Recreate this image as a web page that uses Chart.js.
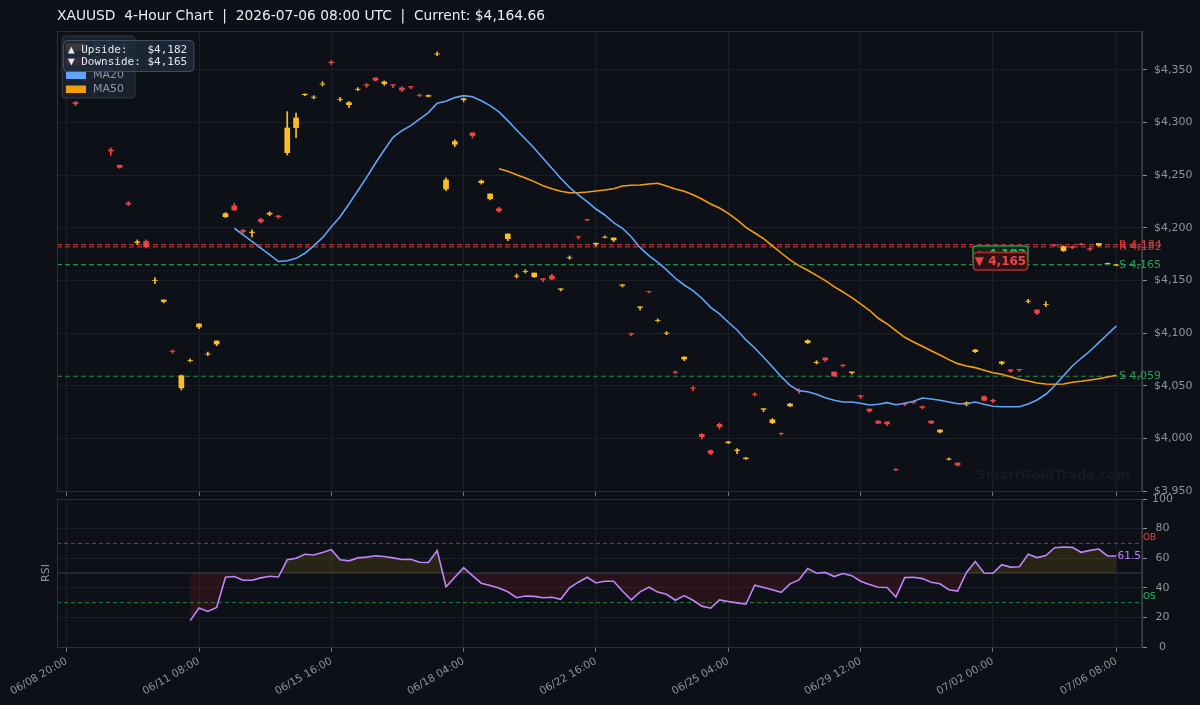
<!DOCTYPE html>
<html><head><meta charset="utf-8">
<script src="https://cdn.jsdelivr.net/npm/chart.js@4.4.1/dist/chart.umd.min.js"></script>
<style>
html,body{margin:0;padding:0;background:#0d1117;}
#wrap{position:relative;width:1200px;height:705px;overflow:hidden;background:#0d1117;}
#c1{position:absolute;left:0;top:0;}
#c2{position:absolute;left:0;top:480px;}
</style></head><body>
<div id="wrap"><canvas id="c1" width="1200" height="497"></canvas><canvas id="c2" width="1200" height="225"></canvas></div>
<script>
// ---------------- DATA ----------------
const tickIdx = [0,15,30,45,60,75,90,105,119];
const tickLabels = ['06/08 20:00','06/11 08:00','06/15 16:00','06/18 04:00','06/22 16:00','06/25 04:00','06/29 12:00','07/02 00:00','07/06 08:00'];

const opens = [4330,4319,4341,4329,4345,4274,4259.5,4223.5,4186,4187,
4150,4130,4083,4048,4074,4105.8,4080,4089.7,4210.6,4220.8,
4197.5,4195.5,4208,4213,4211.3,4271.4,4295.2,4326.5,4324,4336.5,
4357.5,4322,4317,4331.5,4336,4342.4,4337,4336,4332.9,4334.2,
4326,4325,4365,4236.9,4279.4,4321.8,4290.3,4242.9,4227.7,4218.2,
4189.7,4154,4158.5,4153.6,4151.7,4154.3,4141.6,4171.5,4191.5,4207.8,
4184.8,4191,4188.5,4145.4,4099.5,4124.4,4139.5,4112,4099.8,4063,
4075.4,4048,4003.9,3988.3,4013.4,3996,3988.4,3980.8,4042,4027.6,
4014.9,4004.8,4030.8,4045.5,4090.9,4072,4076.4,4063.1,4069.7,4062.5,
4040.6,4027.9,4016.5,4015.6,3970.6,4033,4034.8,4030.2,4016.5,4006.1,
3980.2,3976.6,4032.5,4082.4,4039.6,4036.2,4071.3,4065,4065.6,4130.2,
4122,4127,4183.5,4178.3,4182,4184.5,4180.3,4183.4,4166,4164.4];
const highs = [4331,4320,4342.5,4330.5,4346.5,4276,4259.5,4225,4188.5,4188.5,
4152.7,4131.5,4084,4060.2,4075.4,4108.7,4082,4092.5,4214.5,4223.3,
4198.6,4198,4209.1,4215.3,4212,4310.4,4309.1,4327.2,4325.6,4338.9,
4359,4324,4320,4333.2,4337.1,4342.4,4339.6,4336.1,4334,4334.3,
4327.2,4326.3,4367.1,4247.4,4283.5,4323.3,4290.3,4245.5,4232.2,4219.5,
4194.2,4156.2,4160.3,4157.1,4151.7,4155.9,4142.2,4173.3,4192.3,4208.4,
4185.6,4192.3,4190.4,4146,4100,4125,4140,4113.4,4101.4,4064,
4077.3,4049.1,4004.4,3989,4014.6,3997.2,3990.4,3981.8,4043.4,4028.2,
4018.7,4005.4,4033.3,4047.2,4093.6,4073.8,4076.4,4063.1,4069.8,4063.1,
4040.6,4027.9,4016.6,4015.6,3971.2,4033.9,4034.8,4030.8,4016.5,4008,
3981.4,3976.6,4034.6,4084.6,4040.3,4037.4,4073.2,4065.6,4065.7,4132.1,
4122,4129.6,4184.2,4183,4182.8,4185.2,4181.2,4185.3,4166.6,4165.5];
const lows = [4327.5,4316,4337.5,4326,4341.5,4269,4256.5,4221,4184,4181,
4147,4128.6,4081,4046,4072.6,4104.2,4078.6,4088,4209.6,4216.3,
4194.8,4191.4,4204.6,4211.4,4209,4269.2,4285.7,4325.5,4322.4,4334.8,
4355,4320.4,4314.2,4330.3,4333.4,4339.5,4335.3,4333.2,4329.4,4332.2,
4324.6,4324.3,4363.6,4235.3,4277.1,4319.7,4285.4,4241.6,4226.5,4214.8,
4187.8,4152.4,4157.1,4152.7,4148.9,4150.5,4140,4170.1,4189.4,4206.5,
4182.8,4190.4,4186.9,4143.8,4097.4,4122.1,4138.1,4110.6,4098.5,4061.4,
4073.8,4045,3999.4,3984.5,4008.9,3995,3985.4,3980,4040.3,4025.3,
4013.9,4003.2,4030.1,4042.8,4090,4070.7,4072.9,4059.3,4067.8,4061,
4037.7,4024.9,4014,4012.4,3969.3,4031,4033,4028,4013.7,4005.2,
3979.5,3973.7,4030.8,4081.5,4035.5,4033.9,4070,4062.8,4063.4,4128.6,
4117.5,4125.1,4182.8,4177.6,4180.2,4183.8,4178.3,4182.6,4166,4164];
const closes = [4328.5,4318,4339,4327,4343,4273,4257.5,4222.5,4186.8,4182,
4150.2,4131.5,4082.6,4059.5,4074.2,4108.7,4080.2,4092.5,4213.5,4217,
4196.5,4196,4206,4214,4210.6,4294.9,4304.4,4327,4324.2,4336.7,
4356.8,4322.2,4319,4331.7,4335.4,4340.2,4338.6,4335.5,4331,4333.8,
4325.8,4325.7,4365.2,4245.5,4281.9,4322.6,4287.6,4244.5,4232.2,4216,
4194.2,4154.2,4158.7,4157.1,4151,4151.4,4142.1,4171.7,4191.3,4207.5,
4185.4,4191.2,4190.4,4145.9,4098.9,4125,4139.3,4112.2,4100,4062.8,
4077.3,4047.6,4001.6,3985.8,4011.1,3996.6,3989,3981.4,4041.8,4028.2,
4017.7,4004.6,4032.7,4045.2,4092.8,4072.2,4074.5,4059.3,4069.2,4063.1,
4040,4026,4014.4,4013.7,3970.4,4032.4,4034.2,4029.5,4014.6,4008,
3980.4,3974.7,4033.8,4084,4036.2,4035.5,4072.6,4064,4065.2,4130.4,
4119.1,4127.2,4183.2,4182.1,4181.4,4184.2,4179.8,4185.3,4166.3,4164.66];

const ma20Start = 19;
const ma20 = [4199.6,4193.4,4187.2,4180.8,4174.5,4168,4168.8,4171,4175.8,4182.8,
4190.7,4201.1,4210.6,4222.7,4235.3,4248,4261.4,4274,4286,4292.3,
4297.1,4303.2,4309.5,4318.4,4320.3,4323.7,4325.6,4324.6,4320.8,4316.1,
4310.1,4301.8,4293,4284.4,4275.6,4266.1,4256.6,4247.1,4238.5,4231.2,
4224.9,4217.9,4212.2,4204.9,4199.6,4191.6,4181.2,4173.6,4167.3,4160,
4152.1,4145.7,4140.3,4133.1,4124.5,4118.2,4110.3,4103,4093.5,4085.9,
4077,4068.1,4058.6,4050.4,4045.3,4044.3,4041.9,4038.6,4036.2,4034.6,
4034.6,4033.3,4031.7,4032.4,4033.9,4032,4033.3,4035.2,4038.4,4037.4,
4036.2,4034.6,4032.9,4032.9,4034.6,4032.4,4030.5,4030.1,4030.1,4030.1,
4032.7,4036.5,4041.9,4050,4059.5,4068.8,4076.1,4083,4090.9,4098.9,
4106.8];

const ma50Start = 49;
const ma50 = [4256.2,4253.7,4250.5,4247.4,4243.9,4240.1,4237.2,4234.8,4233.4,4233.4,
4234.1,4235,4236,4237.2,4239.8,4240.5,4240.7,4241.7,4242.4,4239.8,
4236.9,4234.8,4231.5,4227.4,4222.7,4218.9,4213.8,4207.5,4200.5,4195.1,
4189.7,4182.8,4176.1,4169.5,4164.1,4159.7,4154.9,4149.8,4144.1,4139.1,
4133.7,4127.7,4121.7,4114.1,4108.7,4102.3,4096,4091.6,4087.5,4083.3,
4079.2,4074.8,4071,4068.8,4067.2,4064.7,4062.4,4060.9,4058.6,4056.1,
4054.5,4052.6,4051.7,4051.4,4051.7,4053.3,4054.2,4055.5,4056.7,4058.3,
4059.9];

const rsiStart = 14;
const rsi = [17.8,26.4,24,26.7,47.1,47.6,45.1,45.1,46.7,47.8,
47.3,58.9,60,62.7,62.2,63.8,65.8,58.9,58.2,60.2,
60.7,61.6,61.1,60.2,59.1,59.3,57.3,57.1,65.1,40.7,
47.1,53.6,48.2,43.1,41.6,39.8,37.3,33.3,34.4,34.2,
33.3,33.6,32.2,40,43.8,47.1,43.3,44.4,44.4,37.8,
31.8,37.3,40.4,37.1,35.6,31.6,34.7,31.6,27.6,26.2,
31.8,30.7,29.8,28.9,41.8,40.2,38.7,36.9,42.7,45.3,
53.1,49.8,50.4,47.6,49.6,48.2,44.4,42.2,40.4,40.2,
33.8,46.9,47.1,46.2,43.8,42.7,38.7,37.8,50.4,57.8,
50,49.8,55.6,54,54.2,62.7,60.4,61.8,67.1,67.6,
67.3,64,65.3,66.2,61.6,61.5];

const resistance = [4184, 4182];
const support = [4165, 4059];
const upside = 4182, downside = 4165, currentPrice = 4164.66;
const rsiOB = 70, rsiOS = 30, rsiMid = 50;
const titleText = 'XAUUSD  4-Hour Chart  |  2026-07-06 08:00 UTC  |  Current: $4,164.66';

// ---------------- STYLE ----------------
const FONT = '"DejaVu Sans", sans-serif';
const MONO = '"DejaVu Sans Mono", monospace';
const BULL = '#fbbf24', BEAR = '#ef4444';
const GRID = '#1a1f28', TXT = '#8b949e';
const X_MIN = -1.1, X_MAX = 121.9;
Chart.defaults.font.family = FONT;
Chart.defaults.color = TXT;

const fmt = v => Math.round(v).toString().replace(/\B(?=(\d{3})+(?!\d))/g, ',');
const idx = opens.map((_, i) => i);
const candleColors = idx.map(i => closes[i] >= opens[i] ? BULL : BEAR);

function xScale(showLabels, h) {
  return {
    type: 'linear', min: X_MIN, max: X_MAX, offset: false,
    afterBuildTicks: s => { s.ticks = tickIdx.map(v => ({ value: v })); },
    afterFit: s => { s.height = h; s.paddingLeft = 0; s.paddingRight = 0; },
    grid: { color: GRID, tickColor: '#6e7681', tickLength: 5, offset: false },
    border: { display: false },
    ticks: {
      display: showLabels, autoSkip: false, maxRotation: 30, minRotation: 30,
      color: TXT, font: { size: 10.5 }, padding: 3,
      callback: v => { const k = tickIdx.indexOf(v); return k >= 0 ? tickLabels[k] : ''; }
    }
  };
}
function yFit(s) { s.width = 58; s.paddingTop = 0; s.paddingBottom = 0; }

function rr(ctx, x, y, w, h, r) {
  ctx.beginPath();
  ctx.moveTo(x + r, y);
  ctx.arcTo(x + w, y, x + w, y + h, r);
  ctx.arcTo(x + w, y + h, x, y + h, r);
  ctx.arcTo(x, y + h, x, y, r);
  ctx.arcTo(x, y, x + w, y, r);
  ctx.closePath();
}

const mainDeco = {
  id: 'mainDeco',
  beforeDatasetsDraw(chart) {
    const { ctx, chartArea: a, scales: { y } } = chart;
    ctx.save();
    ctx.font = 'bold 13px ' + FONT;
    ctx.fillStyle = '#161c26';
    ctx.textAlign = 'right'; ctx.textBaseline = 'middle';
    ctx.fillText('SmartGoldTrade.com', a.right - 12, a.bottom - 15);
    ctx.lineWidth = 1.2; ctx.setLineDash([5, 3]);
    resistance.forEach(v => {
      const py = y.getPixelForValue(v);
      ctx.strokeStyle = 'rgba(220,50,50,0.85)';
      ctx.beginPath(); ctx.moveTo(a.left, py); ctx.lineTo(a.right, py); ctx.stroke();
    });
    support.forEach(v => {
      const py = y.getPixelForValue(v);
      ctx.strokeStyle = 'rgba(22,163,74,0.9)';
      ctx.beginPath(); ctx.moveTo(a.left, py); ctx.lineTo(a.right, py); ctx.stroke();
    });
    ctx.restore();
  },
  afterDraw(chart) {
    const { ctx, chartArea: a, scales: { y } } = chart;
    ctx.save();
    // border
    ctx.strokeStyle = '#2b3139'; ctx.lineWidth = 1;
    ctx.strokeRect(a.left + 0.5, a.top + 0.5, a.right - a.left - 1, a.bottom - a.top);
    // level labels
    ctx.font = '11px ' + FONT; ctx.textAlign = 'left'; ctx.textBaseline = 'middle';
    resistance.forEach(v => {
      ctx.fillStyle = 'rgba(225,60,60,0.9)';
      ctx.fillText('R ' + fmt(v), a.right - 23, y.getPixelForValue(v));
    });
    support.forEach(v => {
      ctx.fillStyle = 'rgba(34,170,85,0.95)';
      ctx.fillText('S ' + fmt(v), a.right - 23, y.getPixelForValue(v));
    });
    // badges
    const bx = a.right - 169;
    rr(ctx, bx, 246, 55, 18, 3);
    ctx.fillStyle = 'rgba(16,40,26,0.95)'; ctx.fill();
    ctx.strokeStyle = '#1f9d4f'; ctx.lineWidth = 1.5; ctx.stroke();
    ctx.font = 'bold 12px ' + FONT; ctx.textAlign = 'center';
    ctx.fillStyle = '#22c55e';
    ctx.fillText('\u25B2 ' + fmt(upside), bx + 27.5, 255);
    rr(ctx, bx + 0.5, 252.5, 54, 17.5, 3);
    ctx.fillStyle = '#2a1316'; ctx.fill();
    ctx.strokeStyle = '#b42a2a'; ctx.lineWidth = 1.5; ctx.stroke();
    ctx.fillStyle = '#ef4444';
    ctx.fillText('\u25BC ' + fmt(downside), bx + 27.5, 261.5);
    // legend box
    rr(ctx, 62, 36, 73, 62, 3);
    ctx.fillStyle = 'rgba(27,34,46,0.93)'; ctx.fill();
    ctx.strokeStyle = 'rgba(60,70,86,0.7)'; ctx.lineWidth = 1; ctx.stroke();
    const items = [['Bullish', BULL, 47], ['Bearish', BEAR, 61], ['MA20', '#60a5fa', 75], ['MA50', '#f59e0b', 89]];
    ctx.font = '11px ' + FONT; ctx.textAlign = 'left'; ctx.textBaseline = 'middle';
    items.forEach(([t, c, yy]) => {
      ctx.fillStyle = c; ctx.fillRect(66, yy - 3.5, 20, 7.5);
      ctx.fillStyle = '#8f98a6'; ctx.fillText(t, 93, yy);
    });
    // annotation box
    rr(ctx, 63.5, 40.5, 130.5, 31, 4);
    ctx.fillStyle = 'rgba(30,41,58,0.88)'; ctx.fill();
    ctx.strokeStyle = 'rgba(72,86,106,0.85)'; ctx.lineWidth = 1; ctx.stroke();
    ctx.font = '11px ' + MONO; ctx.fillStyle = '#e5e7eb';
    ctx.fillText('\u25B2 Upside:   $' + fmt(upside), 68, 50.5);
    ctx.fillText('\u25BC Downside: $' + fmt(downside), 68, 62);
    // title
    ctx.font = '13.8px ' + FONT; ctx.fillStyle = '#e6edf3';
    ctx.fillText(titleText, 57, 16);
    ctx.restore();
  }
};

const rsiDeco = {
  id: 'rsiDeco',
  beforeDatasetsDraw(chart) {
    const { ctx, chartArea: a, scales: { y } } = chart;
    ctx.save();
    ctx.lineWidth = 1;
    let py = y.getPixelForValue(rsiMid);
    ctx.strokeStyle = '#3a404b';
    ctx.beginPath(); ctx.moveTo(a.left, py); ctx.lineTo(a.right, py); ctx.stroke();
    ctx.setLineDash([4, 3]);
    py = y.getPixelForValue(rsiOB);
    ctx.strokeStyle = 'rgba(200,60,60,0.75)';
    ctx.beginPath(); ctx.moveTo(a.left, py); ctx.lineTo(a.right, py); ctx.stroke();
    py = y.getPixelForValue(rsiOS);
    ctx.strokeStyle = 'rgba(34,160,80,0.8)';
    ctx.beginPath(); ctx.moveTo(a.left, py); ctx.lineTo(a.right, py); ctx.stroke();
    ctx.restore();
  },
  afterDraw(chart) {
    const { ctx, chartArea: a, scales: { y } } = chart;
    ctx.save();
    ctx.strokeStyle = '#2b3139'; ctx.lineWidth = 1;
    ctx.strokeRect(a.left + 0.5, a.top + 0.5, a.right - a.left - 1, a.bottom - a.top);
    ctx.font = '9px ' + FONT; ctx.textAlign = 'left'; ctx.textBaseline = 'middle';
    ctx.fillStyle = '#ef4444'; ctx.fillText('OB', a.right + 1, y.getPixelForValue(rsiOB) - 5.5);
    ctx.fillStyle = '#22c55e'; ctx.fillText('OS', a.right + 1, y.getPixelForValue(rsiOS) - 5.5);
    const last = rsi[rsi.length - 1];
    ctx.font = '10.5px ' + FONT; ctx.textAlign = 'right'; ctx.fillStyle = '#c084fc';
    ctx.fillText(last.toFixed(1), a.right - 1, y.getPixelForValue(last));
    ctx.translate(46, (a.top + a.bottom) / 2);
    ctx.rotate(-Math.PI / 2);
    ctx.font = '11px ' + FONT;
    ctx.textAlign = 'center'; ctx.fillStyle = TXT;
    ctx.fillText('RSI', 0, 0);
    ctx.restore();
  }
};

new Chart(document.getElementById('c1'), {
  type: 'bar',
  data: {
    datasets: [
      { type: 'line', label: 'MA20', data: ma20.map((v, k) => ({ x: ma20Start + k, y: v })),
        borderColor: '#60a5fa', borderWidth: 1.6, pointRadius: 0, tension: 0, order: 0 },
      { type: 'line', label: 'MA50', data: ma50.map((v, k) => ({ x: ma50Start + k, y: v })),
        borderColor: '#f59e0b', borderWidth: 1.6, pointRadius: 0, tension: 0, order: 1 },
      { type: 'bar', label: 'body', data: idx.map(i => ({ x: i, y: [opens[i], closes[i]] })),
        backgroundColor: candleColors, borderWidth: 0, barThickness: 5, grouped: false, order: 2 },
      { type: 'bar', label: 'wick', data: idx.map(i => ({ x: i, y: [lows[i], highs[i]] })),
        backgroundColor: candleColors, borderWidth: 0, barThickness: 1, grouped: false, order: 3 }
    ]
  },
  options: {
    responsive: false, animation: false, devicePixelRatio: 1,
    layout: { padding: { left: 57, right: 0, top: 31, bottom: 0 } },
    plugins: { legend: { display: false }, tooltip: { enabled: false }, title: { display: false } },
    scales: {
      x: xScale(false, 6),
      y: {
        position: 'right', min: 3950, max: 4387,
        afterFit: yFit,
        grid: { color: GRID, tickColor: '#8b949e', tickLength: 5 },
        border: { display: true, color: '#3a404a' },
        ticks: { stepSize: 50, includeBounds: false, color: TXT, padding: 7, font: { size: 11 },
          callback: v => '$' + fmt(v) }
      }
    }
  },
  plugins: [mainDeco]
});

new Chart(document.getElementById('c2'), {
  type: 'line',
  data: {
    datasets: [{
      label: 'RSI', data: rsi.map((v, k) => ({ x: rsiStart + k, y: v })),
      borderColor: '#c084fc', borderWidth: 1.6, pointRadius: 0, tension: 0,
      fill: { target: { value: rsiMid }, above: 'rgba(234,179,8,0.13)', below: 'rgba(220,38,38,0.13)' }
    }]
  },
  options: {
    responsive: false, animation: false, devicePixelRatio: 1,
    layout: { padding: { left: 57, right: 0, top: 19, bottom: 0 } },
    plugins: { legend: { display: false }, tooltip: { enabled: false } },
    scales: {
      x: xScale(true, 58),
      y: {
        position: 'right', min: 0, max: 100,
        afterFit: yFit,
        grid: { color: GRID, tickColor: '#8b949e', tickLength: 5 },
        border: { display: true, color: '#3a404a' },
        ticks: { stepSize: 20, color: TXT, padding: 5, crossAlign: 'center', font: { size: 11 } }
      }
    }
  },
  plugins: [rsiDeco]
});
</script>
</body></html>
